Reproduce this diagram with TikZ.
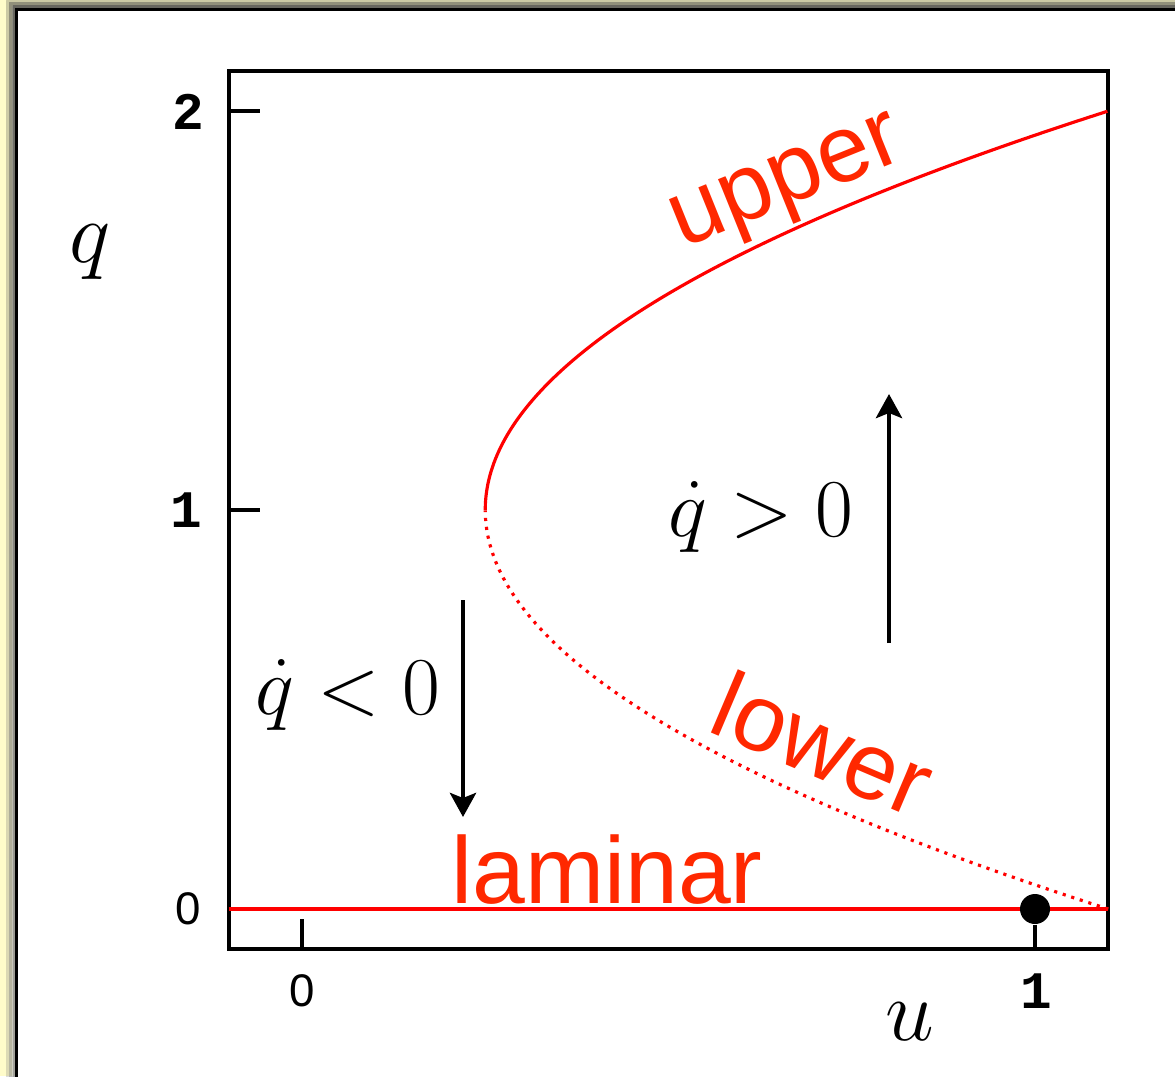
\documentclass[tikz,border=0pt]{standalone}
\usepackage{fontspec}
\usepackage{amsmath}
\usetikzlibrary{arrows.meta,positioning,calc}
\newfontfamily\redfont{Liberation Sans}
\newfontfamily\monofont{Liberation Mono}
\definecolor{paper}{RGB}{255,252,202}
\definecolor{shade}{RGB}{232,226,170}
\definecolor{curvered}{RGB}{255,0,0}
\definecolor{textred}{RGB}{255,40,0}

\begin{document}
\begin{tikzpicture}[
    branch/.style={curvered, line width=0.9pt},
    word/.style={textred, inner sep=0pt, anchor=base, font=\redfont\fontsize{27}{30}\selectfont},
    rate/.style={inner sep=0pt, anchor=base, scale=0.94, font=\fontsize{23}{26}\selectfont},
    axislabel/.style={inner sep=0pt, anchor=base, font=\fontsize{30}{32}\selectfont},
    ticklabel/.style={inner sep=0pt, font=\redfont\fontsize{13}{15}\selectfont},
    tickmono/.style={inner sep=0pt, font=\monofont\bfseries\fontsize{15}{17}\selectfont},
    flow/.style={line width=1.4pt, -{Stealth[length=0.24cm, width=0.26cm, inset=0.05cm]}}]
  \useasboundingbox (0,0) rectangle (11.75,10.76);
  \clip (0,0) rectangle (11.75,10.76);
  % background and panel
  \fill[paper] (0,0) rectangle (11.75,10.76);
  \foreach \d/\o in {0.10/0.15, 0.07/0.25, 0.04/0.4} {
    \fill[shade, opacity=\o] (0.165-\d,-1) rectangle (13,10.665+\d);
  }
  \draw[fill=white, line width=1pt] (0.165,-1) rectangle (13,10.665);

  \begin{scope}[shift={(3.02cm,1.67cm)}, x=7.33cm, y=3.99cm]
    % frame and ticks
    \draw[line width=1.15pt] (-0.1,-0.1) rectangle (1.1,2.1);
    \foreach \q in {0,1,2} {
      \draw[line width=0.9pt] (-0.1,\q) -- ++(0.31cm,0);
    }
    \draw[line width=0.9pt] (0,-0.1) -- ++(0,0.30cm);
    % branches
    \draw[branch] (-0.1,0) -- (1.1,0);
    \draw[branch, domain=0:1, samples=60, smooth] plot ({0.25+0.85*\x*\x}, {1+\x});
    \draw[branch, dash pattern=on 0.9pt off 1.65pt, domain=-1:0, samples=60, smooth]
      plot ({0.25+0.85*\x*\x}, {1+\x});
    % point at u = 1
    \node[circle, fill=black, inner sep=0pt, minimum size=0.30cm] (fixed) at (1,0) {};
    \coordinate (foot) at (1,-0.1);
    \draw[line width=0.9pt] (fixed) -- (foot);
  \end{scope}

  % tick labels
  \node[tickmono] (ytwo) at (1.88,9.64) {2};
  \node[tickmono] (yone) at (1.86,5.66) {1};
  \node[ticklabel] (yzero) at (1.88,1.67) {0};
  \node[ticklabel] (xzero) at (3.02,0.85) {0};
  \node[tickmono] (xone) at (10.36,0.85) {1};
  \node[axislabel] (qlab) at (0.90,8.13) {$q$};
  \node[axislabel] (ulab) at (9.10,0.36) {$u$};

  % branch names
  \node[word, rotate=22] (upper) at (7.95,8.73) {upper};
  \node[word, rotate=-23] (lower) at (8.10,3.01) {lower};
  \node[word] (laminar) at (6.07,1.73) {laminar};

  % growth and decay
  \node[rate] (grow) at (7.61,5.40) {$\dot q > 0$};
  \node[rate] (decay) at (3.48,3.62) {$\dot q < 0$};
  \coordinate (growA) at (8.89,4.33);
  \coordinate (growB) at (8.89,6.82);
  \coordinate (decayA) at (4.63,4.76);
  \coordinate (decayB) at (4.63,2.59);
  \draw[flow] (growA) -- (growB);
  \draw[flow] (decayA) -- (decayB);
\end{tikzpicture}
\end{document}
